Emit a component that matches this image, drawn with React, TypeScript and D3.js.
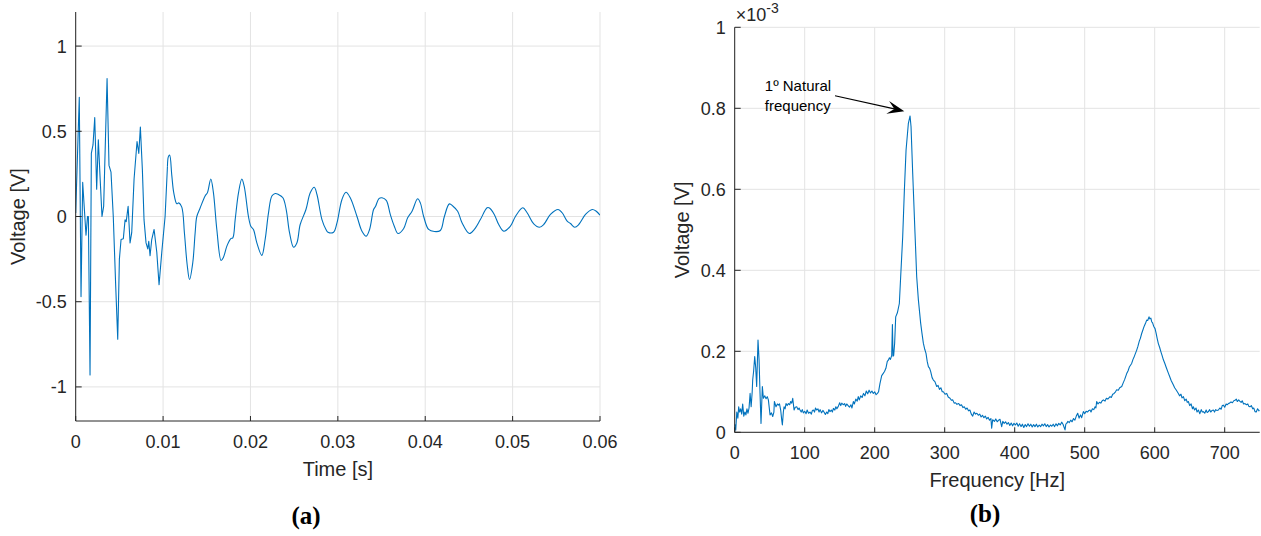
import React from "react";
import * as d3 from "d3";

// ---------- DATA ----------
const timeTicks = [0, 0.01, 0.02, 0.03, 0.04, 0.05, 0.06];
const timeTickLabels = ["0", "0.01", "0.02", "0.03", "0.04", "0.05", "0.06"];
const voltTicksA = [-1, -0.5, 0, 0.5, 1];
const voltTickLabelsA = ["-1", "-0.5", "0", "0.5", "1"];
const freqTicks = [0, 100, 200, 300, 400, 500, 600, 700];
const freqTickLabels = ["0", "100", "200", "300", "400", "500", "600", "700"];
const specTicks = [0, 0.2, 0.4, 0.6, 0.8, 1];
const specTickLabels = ["0", "0.2", "0.4", "0.6", "0.8", "1"];

// time signal, impulsive start [s, V]
const signalImpulse: [number, number][] = [
  [0, 0.02], [0.00041, 0.7], [0.00061, -0.47], [0.0008, 0.2], [0.00118, -0.11],
  [0.00135, 0.0], [0.00145, 0.0], [0.00164, -0.93], [0.00179, 0.37], [0.00198, 0.42],
  [0.00218, 0.58], [0.0024, 0.16], [0.00259, 0.45], [0.00278, 0.24], [0.00301, 0.0],
  [0.0032, 0.06], [0.00359, 0.81], [0.00381, 0.3], [0.00404, 0.26], [0.0043, 0.0],
  [0.00458, -0.41], [0.00481, -0.72], [0.005, -0.25], [0.00519, -0.135], [0.00545, -0.13],
  [0.00565, -0.02], [0.00578, -0.03], [0.006, 0.06], [0.00622, -0.155], [0.00641, -0.095],
  [0.00668, 0.22], [0.00702, 0.44], [0.00722, 0.37], [0.0074, 0.525], [0.00763, 0.275],
  [0.00782, -0.02], [0.00805, -0.155], [0.00825, -0.19], [0.00836, -0.145], [0.00851, -0.23],
  [0.0087, -0.135], [0.00897, -0.076], [0.00928, -0.21], [0.00954, -0.4], [0.00985, -0.21],
  [0.01023, 0.0], [0.0105, 0.295],
];

// time signal, ringing part [s, V]
const signalRing: [number, number][] = [
  [0.0105, 0.295], [0.0106, 0.35], [0.01075, 0.36], [0.011, 0.24], [0.01122, 0.14],
  [0.01157, 0.075], [0.0118, 0.08], [0.01214, 0.055], [0.01244, -0.095], [0.01275, -0.28],
  [0.01303, -0.37], [0.0134, -0.27], [0.01367, -0.095], [0.01386, 0.0], [0.01424, 0.05],
  [0.01481, 0.12], [0.01508, 0.14], [0.01546, 0.22], [0.01576, 0.14], [0.01615, -0.076],
  [0.01664, -0.258], [0.0169, -0.24], [0.0173, -0.174], [0.01775, -0.13], [0.01798, -0.125],
  [0.01825, -0.018], [0.01863, 0.139], [0.01901, 0.22], [0.01928, 0.178], [0.01977, 0.0],
  [0.02004, -0.057], [0.02034, -0.076], [0.02073, -0.155], [0.0213, -0.228], [0.02168, -0.135],
  [0.02206, 0.02], [0.02245, 0.12], [0.02283, 0.135], [0.0232, 0.129], [0.02371, 0.11],
  [0.02409, 0.041], [0.02447, -0.095], [0.02493, -0.18], [0.02531, -0.155], [0.02569, -0.047],
  [0.02635, 0.041], [0.02684, 0.139], [0.0273, 0.172], [0.02761, 0.129], [0.02818, -0.018],
  [0.02864, -0.076], [0.02887, -0.092], [0.02951, -0.092], [0.0299, -0.037], [0.03047, 0.1],
  [0.03093, 0.142], [0.03142, 0.11], [0.03219, 0.0], [0.03276, -0.086], [0.03325, -0.115],
  [0.03363, -0.076], [0.03409, 0.041], [0.03432, 0.06], [0.0347, 0.105], [0.03505, 0.11],
  [0.03554, 0.095], [0.036, 0.012], [0.03646, -0.057], [0.03688, -0.1], [0.03752, -0.072],
  [0.03799, -0.008], [0.03849, 0.031], [0.03913, 0.104], [0.03944, 0.08], [0.03982, 0.0],
  [0.04039, -0.076], [0.04104, -0.088], [0.04173, -0.082], [0.04219, 0.0], [0.04276, 0.074],
  [0.04318, 0.06], [0.04371, 0.031], [0.04421, -0.037], [0.04505, -0.1], [0.04562, -0.076],
  [0.04631, -0.018], [0.04708, 0.051], [0.04735, 0.05], [0.0479, 0.012], [0.04841, -0.047],
  [0.04898, -0.086], [0.04975, -0.057], [0.05032, 0.0], [0.05116, 0.051], [0.05166, 0.022],
  [0.05242, -0.043], [0.05307, -0.063], [0.05356, -0.047], [0.05433, 0.012], [0.05521, 0.041],
  [0.05567, 0.022], [0.05624, -0.027], [0.05662, -0.041], [0.05711, -0.063], [0.05757, -0.047],
  [0.05834, 0.012], [0.05911, 0.041], [0.05957, 0.031], [0.06, 0.008],
];

// FFT spectrum [Hz, V x 1e-3]
const spectrum: [number, number][] = [
  [0, 0.02], [1.5, 0.005], [3, 0.05], [4.5, 0.035], [5.7, 0.063], [7, 0.05], [8.5, 0.058],
  [10, 0.045], [11.4, 0.07], [13, 0.04], [14.5, 0.05], [16, 0.043], [17.5, 0.058], [19, 0.047],
  [20.5, 0.06], [22, 0.096], [23.5, 0.063], [25, 0.1], [25.7, 0.129], [27, 0.15], [28.6, 0.187],
  [30, 0.16], [31.4, 0.113], [33.3, 0.228], [34.8, 0.179], [36.2, 0.096], [37.6, 0.022],
  [39.5, 0.113], [41, 0.084], [43, 0.09], [44.8, 0.083], [46.5, 0.088], [48.1, 0.08],
  [50.5, 0.043], [52.5, 0.048], [54.3, 0.039], [56, 0.05], [56.7, 0.076], [59, 0.063],
  [61, 0.07], [62.4, 0.067], [64, 0.07], [65.7, 0.055], [67.2, 0.03], [68.1, 0.018],
  [69.5, 0.05], [70.5, 0.063], [72, 0.058], [73.3, 0.071], [75, 0.066], [76.7, 0.071],
  [78.5, 0.068], [80, 0.076], [81.5, 0.072], [82.9, 0.084], [84.8, 0.055], [86.5, 0.062],
  [88.6, 0.063], [90.5, 0.056], [92, 0.06], [93.3, 0.055], [95, 0.05], [96.5, 0.056],
  [98.1, 0.048], [100, 0.052], [102, 0.046], [103.5, 0.055], [105.5, 0.047], [107.6, 0.05],
  [109.5, 0.045], [111, 0.054], [112.4, 0.055], [114, 0.05], [115.5, 0.06], [117.1, 0.055],
  [119, 0.058], [120.5, 0.05], [122, 0.056], [124, 0.048], [126, 0.054], [128, 0.049],
  [129.5, 0.044], [131.4, 0.05], [133, 0.046], [134.5, 0.056], [136.2, 0.051], [138, 0.055],
  [139.5, 0.05], [141, 0.059], [143, 0.055], [144.5, 0.063], [146, 0.058], [148, 0.064],
  [150, 0.073], [151.5, 0.066], [153, 0.072], [155, 0.068], [157, 0.071], [158.5, 0.064],
  [160, 0.07], [162, 0.066], [164, 0.062], [166, 0.068], [167.5, 0.06], [169.5, 0.076],
  [171, 0.07], [173, 0.082], [175, 0.077], [176.5, 0.088], [178, 0.08], [180, 0.09],
  [182, 0.086], [184, 0.096], [186, 0.09], [188, 0.102], [190, 0.095], [192, 0.104],
  [194, 0.097], [196, 0.102], [198, 0.096], [200, 0.1], [202, 0.093], [204, 0.096],
  [205.5, 0.1], [207.5, 0.12], [210, 0.14], [212, 0.145], [214, 0.15], [216, 0.158],
  [218, 0.175], [219.5, 0.178], [221, 0.184], [222.5, 0.18], [224.3, 0.19], [225.3, 0.266],
  [226.2, 0.188], [227.1, 0.19], [228.5, 0.22], [230, 0.285], [232.4, 0.295], [235.2, 0.318],
  [237.1, 0.384], [240, 0.483], [242.4, 0.598], [244.8, 0.697], [248.1, 0.763], [250.5, 0.781],
  [251.9, 0.755], [254.3, 0.639], [257.6, 0.491], [260, 0.384], [262.4, 0.327], [265.7, 0.269],
  [267.5, 0.245], [269.5, 0.22], [271.5, 0.205], [273.3, 0.195], [275, 0.175], [276.7, 0.162],
  [278.5, 0.158], [280, 0.15], [282, 0.135], [283.8, 0.129], [286, 0.125], [288.6, 0.113],
  [290.5, 0.116], [292.5, 0.106], [294.5, 0.11], [296.5, 0.1], [298.1, 0.1], [300.5, 0.094],
  [302.9, 0.096], [305, 0.087], [307.6, 0.084], [309.5, 0.079], [311.5, 0.08], [313.5, 0.072],
  [315.5, 0.073], [317.5, 0.069], [320, 0.071], [322, 0.066], [324, 0.068], [326, 0.061],
  [328, 0.063], [330, 0.057], [332, 0.06], [334, 0.053], [336, 0.055], [338, 0.045],
  [340, 0.04], [342, 0.05], [344, 0.045], [346, 0.047], [348, 0.042], [350, 0.045],
  [352, 0.038], [354, 0.042], [356, 0.036], [358, 0.04], [360, 0.033], [362, 0.037],
  [364, 0.03], [366, 0.034], [367.1, 0.01], [368.5, 0.031], [371, 0.027], [373, 0.033],
  [375, 0.026], [377, 0.03], [379, 0.032], [381.4, 0.014], [383, 0.027], [385, 0.022],
  [387, 0.026], [389, 0.02], [391, 0.024], [393, 0.017], [395, 0.023], [397, 0.016],
  [399, 0.022], [401, 0.018], [403, 0.023], [405, 0.015], [407, 0.021], [409, 0.014],
  [411, 0.02], [413, 0.012], [415, 0.019], [417, 0.014], [419, 0.021], [421, 0.015],
  [423, 0.02], [425, 0.013], [427, 0.019], [429, 0.014], [431, 0.02], [433, 0.013],
  [435, 0.018], [437, 0.014], [439, 0.02], [441, 0.016], [443, 0.021], [445, 0.014],
  [447, 0.019], [449, 0.013], [451, 0.018], [453, 0.015], [455, 0.02], [457, 0.014],
  [459, 0.021], [461, 0.016], [463, 0.022], [465, 0.018], [467.1, 0.025], [469, 0.02],
  [471.9, 0.006], [473, 0.02], [474.3, 0.022], [476, 0.027], [478, 0.024], [480, 0.03],
  [482, 0.026], [484, 0.034], [486, 0.03], [488, 0.04], [490, 0.047], [492, 0.035],
  [494, 0.043], [495.7, 0.036], [498.1, 0.051], [500, 0.046], [502, 0.052], [504, 0.05],
  [506, 0.054], [507.6, 0.055], [509, 0.05], [511, 0.058], [513, 0.056], [514.8, 0.063],
  [516, 0.06], [517.1, 0.076], [519, 0.07], [521, 0.074], [523, 0.072], [525, 0.078],
  [526.7, 0.08], [529, 0.077], [531, 0.084], [533, 0.082], [536.2, 0.088], [538, 0.086],
  [540, 0.094], [542, 0.096], [544, 0.1], [545.7, 0.105], [548, 0.104], [550, 0.11],
  [552.9, 0.113], [555, 0.122], [557, 0.13], [560, 0.145], [562, 0.152], [564, 0.162],
  [567.1, 0.17], [569, 0.18], [571, 0.188], [574.3, 0.203], [576, 0.212], [578, 0.225],
  [579.5, 0.232], [581.4, 0.244], [583, 0.252], [585, 0.262], [587, 0.27], [588.6, 0.277],
  [590, 0.276], [591.9, 0.285], [593, 0.28], [594.5, 0.282], [595.7, 0.273], [597, 0.27],
  [598.5, 0.262], [600.5, 0.256], [602, 0.245], [603.5, 0.232], [605.2, 0.219], [607, 0.21],
  [609, 0.198], [610.5, 0.19], [612.4, 0.179], [614.5, 0.17], [616.5, 0.16], [619.5, 0.146],
  [621.5, 0.137], [623.5, 0.128], [626.7, 0.117], [628.5, 0.11], [630.5, 0.105], [633.8, 0.096],
  [635.5, 0.09], [637.5, 0.094], [639, 0.085], [641, 0.088], [643, 0.078], [645, 0.082],
  [646.5, 0.074], [648.1, 0.076], [650, 0.066], [652, 0.07], [654, 0.058], [655.2, 0.063],
  [657, 0.055], [659, 0.06], [660.5, 0.05], [662.4, 0.055], [664.5, 0.046], [666.5, 0.056],
  [668, 0.05], [669.5, 0.051], [671.5, 0.047], [673.5, 0.055], [675, 0.049], [676.7, 0.051],
  [678.5, 0.056], [680, 0.05], [682, 0.054], [683.8, 0.055], [685.5, 0.05], [687, 0.056],
  [689, 0.054], [691, 0.055], [693, 0.06], [695, 0.057], [696.5, 0.066], [698.1, 0.067],
  [700, 0.062], [702, 0.07], [703.5, 0.068], [705.2, 0.071], [707, 0.072], [709, 0.075],
  [711, 0.073], [713, 0.078], [714.8, 0.079], [716.5, 0.082], [718, 0.076], [720, 0.08],
  [721.9, 0.076], [723.5, 0.074], [725, 0.078], [727, 0.07], [729, 0.071], [731, 0.068],
  [733, 0.07], [734.5, 0.064], [736.2, 0.063], [738, 0.066], [740, 0.058], [741.5, 0.06],
  [743.3, 0.051], [745, 0.05], [747, 0.058], [749, 0.053], [750, 0.055],
];

const peakNoteLines = ["1º Natural", "frequency"];
const peakNoteAnchor: [number, number] = [43, 0.842]; // text start [Hz, V x 1e-3]
const peakArrowTail: [number, number] = [143.3, 0.831];
const peakArrowTip: [number, number] = [242.3, 0.793];

// ---------- STYLE ----------
const FONT = "'Liberation Sans', Arial, Helvetica, sans-serif";
const INK = "#262626";
const GRID = "#e3e3e3";
const LINE = "#0072BD";

export default function App() {
  // Panel (a)
  const xA = d3.scaleLinear().domain([0, 0.06]).range([75.7, 600]);
  const yA = d3.scaleLinear().domain([-1.2, 1.2]).range([421, 12]);
  // Panel (b)
  const xB = d3.scaleLinear().domain([0, 750]).range([734.7, 1259.7]);
  const yB = d3.scaleLinear().domain([0, 1]).range([432.3, 27.3]);

  const lineALin = d3.line<[number, number]>().x((d) => xA(d[0])).y((d) => yA(d[1]));
  const lineASmooth = d3
    .line<[number, number]>()
    .x((d) => xA(d[0]))
    .y((d) => yA(d[1]))
    .curve(d3.curveCatmullRom.alpha(0.5));
  const lineB = d3.line<[number, number]>().x((d) => xB(d[0])).y((d) => yB(d[1]));

  // arrow geometry
  const tx = xB(peakArrowTail[0]);
  const ty = yB(peakArrowTail[1]);
  const hx = xB(peakArrowTip[0]);
  const hy = yB(peakArrowTip[1]);
  const len = Math.hypot(hx - tx, hy - ty);
  const ux = (hx - tx) / len;
  const uy = (hy - ty) / len;
  const nx = -uy;
  const ny = ux;
  const L = 17;
  const W = 13;
  const head = [
    [hx, hy],
    [hx - L * ux + (W / 2) * nx, hy - L * uy + (W / 2) * ny],
    [hx - 0.6 * L * ux, hy - 0.6 * L * uy],
    [hx - L * ux - (W / 2) * nx, hy - L * uy - (W / 2) * ny],
  ];

  const [a0, a1] = xA.range();
  const [ab, at] = yA.range();
  const [b0, b1] = xB.range();
  const [bb, bt] = yB.range();

  return (
    <svg
      width={1261}
      height={536}
      style={{ position: "absolute", left: 0, top: 0, background: "#fff" }}
      fontFamily={FONT}
    >
      <defs>
        <clipPath id="clipA">
          <rect x={a0} y={at} width={a1 - a0} height={ab - at} />
        </clipPath>
        <clipPath id="clipB">
          <rect x={b0} y={bt} width={b1 - b0} height={bb - bt} />
        </clipPath>
      </defs>

      {/* ---------- Panel (a) ---------- */}
      <g>
        {timeTicks.map((t, i) => (
          <line key={"gax" + i} x1={xA(t)} x2={xA(t)} y1={at} y2={ab} stroke={GRID} strokeWidth={1} />
        ))}
        {voltTicksA.map((v, i) => (
          <line key={"gay" + i} x1={a0} x2={a1} y1={yA(v)} y2={yA(v)} stroke={GRID} strokeWidth={1} />
        ))}
        <g clipPath="url(#clipA)">
          <path d={lineALin(signalImpulse) || ""} fill="none" stroke={LINE} strokeWidth={1.1} strokeLinejoin="round" />
          <path d={lineASmooth(signalRing) || ""} fill="none" stroke={LINE} strokeWidth={1.1} strokeLinejoin="round" />
        </g>
        <line x1={a0} x2={a0} y1={at} y2={ab} stroke={INK} strokeWidth={1} />
        <line x1={a0} x2={a1} y1={ab} y2={ab} stroke={INK} strokeWidth={1} />
        {timeTicks.map((t, i) => (
          <g key={"tax" + i}>
            <line x1={xA(t)} x2={xA(t)} y1={ab} y2={ab - 5} stroke={INK} />
            <text x={xA(t)} y={ab + 27} textAnchor="middle" fontSize={18} fill={INK}>
              {timeTickLabels[i]}
            </text>
          </g>
        ))}
        {voltTicksA.map((v, i) => (
          <g key={"tay" + i}>
            <line x1={a0} x2={a0 + 6} y1={yA(v)} y2={yA(v)} stroke={INK} />
            <text x={a0 - 9} y={yA(v)} dy="0.36em" textAnchor="end" fontSize={18} fill={INK}>
              {voltTickLabelsA[i]}
            </text>
          </g>
        ))}
        <text x={(a0 + a1) / 2} y={ab + 55} textAnchor="middle" fontSize={20} fill={INK}>
          Time [s]
        </text>
        <text
          transform={`translate(25,${(at + ab) / 2}) rotate(-90)`}
          textAnchor="middle"
          fontSize={20}
          fill={INK}
        >
          Voltage [V]
        </text>
        <text x={306} y={524} textAnchor="middle" fontSize={25} fontWeight="bold" fontFamily="'Liberation Serif', 'DejaVu Serif', serif" fill="#000">
          (a)
        </text>
      </g>

      {/* ---------- Panel (b) ---------- */}
      <g>
        {freqTicks.map((f, i) => (
          <line key={"gbx" + i} x1={xB(f)} x2={xB(f)} y1={bt} y2={bb} stroke={GRID} strokeWidth={1} />
        ))}
        {specTicks.map((v, i) => (
          <line key={"gby" + i} x1={b0} x2={b1} y1={yB(v)} y2={yB(v)} stroke={GRID} strokeWidth={1} />
        ))}
        <g clipPath="url(#clipB)">
          <path d={lineB(spectrum) || ""} fill="none" stroke={LINE} strokeWidth={1.1} strokeLinejoin="round" />
        </g>
        <line x1={b0} x2={b0} y1={bt} y2={bb} stroke={INK} strokeWidth={1} />
        <line x1={b0} x2={b1} y1={bb} y2={bb} stroke={INK} strokeWidth={1} />
        {freqTicks.map((f, i) => (
          <g key={"tbx" + i}>
            <line x1={xB(f)} x2={xB(f)} y1={bb} y2={bb - 5} stroke={INK} />
            <text x={xB(f)} y={bb + 27} textAnchor="middle" fontSize={18} fill={INK}>
              {freqTickLabels[i]}
            </text>
          </g>
        ))}
        {specTicks.map((v, i) => (
          <g key={"tby" + i}>
            <line x1={b0} x2={b0 + 6} y1={yB(v)} y2={yB(v)} stroke={INK} />
            <text x={b0 - 9} y={yB(v)} dy="0.36em" textAnchor="end" fontSize={18} fill={INK}>
              {specTickLabels[i]}
            </text>
          </g>
        ))}
        <text x={b0 + 1} y={bt - 6} fontSize={18} fill={INK}>
          ×10
          <tspan fontSize={14} dy={-8}>
            -3
          </tspan>
        </text>
        <text x={(b0 + b1) / 2} y={bb + 55} textAnchor="middle" fontSize={20} fill={INK}>
          Frequency [Hz]
        </text>
        <text
          transform={`translate(689,${(bt + bb) / 2}) rotate(-90)`}
          textAnchor="middle"
          fontSize={20}
          fill={INK}
        >
          Voltage [V]
        </text>
        {peakNoteLines.map((s, i) => (
          <text key={"pn" + i} x={xB(peakNoteAnchor[0])} y={yB(peakNoteAnchor[1]) + i * 20} fontSize={15} fill="#000">
            {s}
          </text>
        ))}
        <line x1={tx} y1={ty} x2={hx - 0.6 * L * ux} y2={hy - 0.6 * L * uy} stroke="#000" strokeWidth={1.2} />
        <polygon points={head.map((p) => p.join(",")).join(" ")} fill="#000" />
        <text x={985} y={522} textAnchor="middle" fontSize={25} fontWeight="bold" fontFamily="'Liberation Serif', 'DejaVu Serif', serif" fill="#000">
          (b)
        </text>
      </g>
    </svg>
  );
}
